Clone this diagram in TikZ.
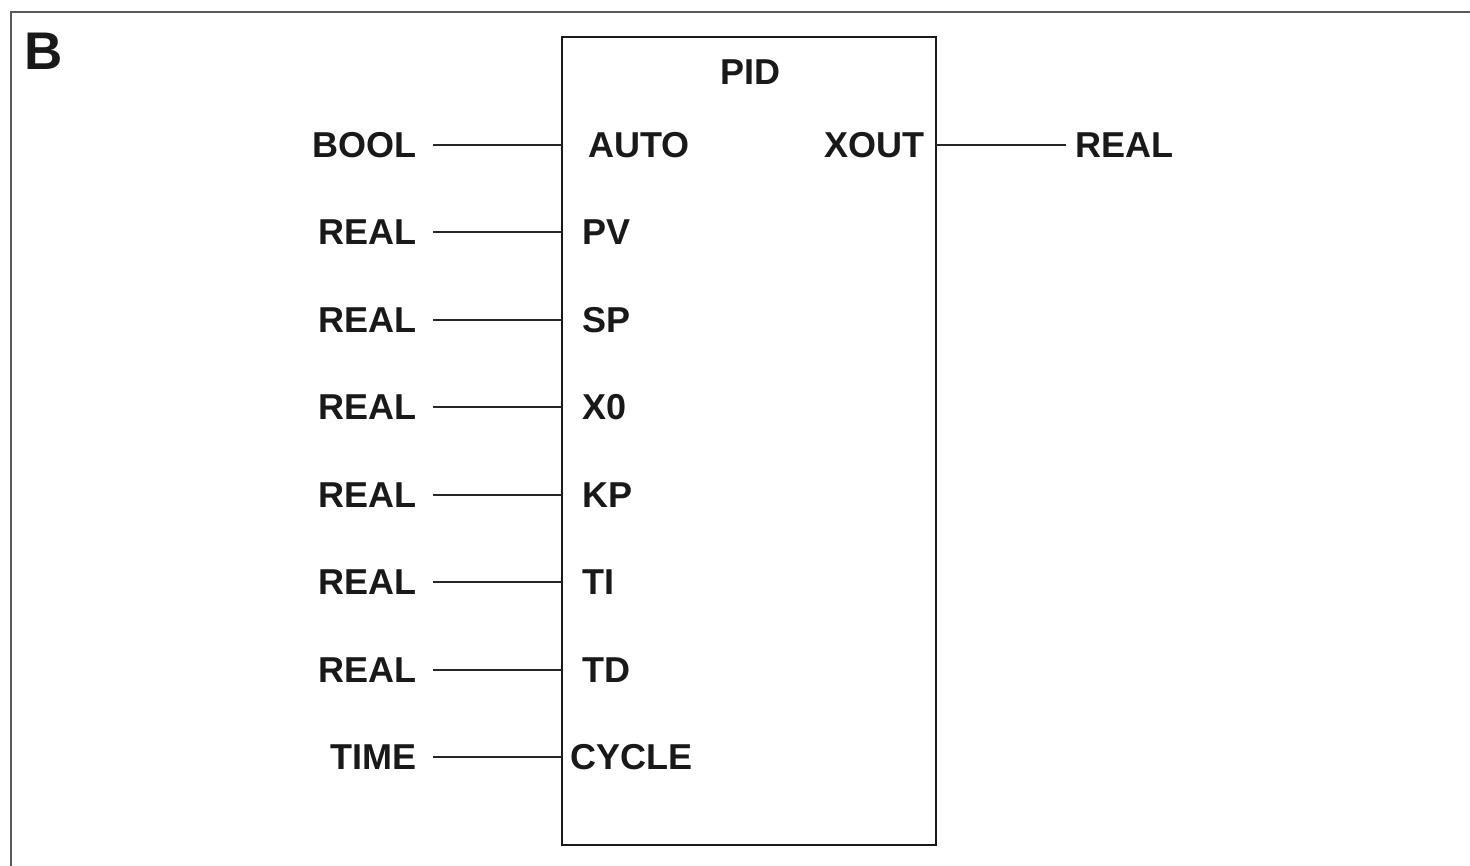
\documentclass[tikz,border=0pt]{standalone}
\usepackage{fontspec}
\setmainfont{Liberation Sans}
\begin{document}
\begin{tikzpicture}[x=1pt,y=-1pt,
  lbl/.style={font=\fontsize{36}{40}\selectfont\bfseries, inner sep=0pt, text=black!90},
  wire/.style={draw=black!85, line width=2pt},
  frame/.style={draw=black!65, line width=2.8pt}]
\useasboundingbox (0,0) rectangle (1470,865);
\begin{scope}
\clip (0,0) rectangle (1470,865);
\draw[frame] (11,12) rectangle (1490,885);
\end{scope}
\node[lbl, font=\fontsize{53}{56}\selectfont\bfseries, anchor=west] (B) at (24,51) {B};
% block
\draw[draw=black!90, line width=2.6pt] (562,37) rectangle (936,845);
\node[lbl, anchor=center] (pid) at (750,72) {PID};
% left rows
\foreach \n/\t/\p/\px/\y in {a/BOOL/AUTO/588/145, b/REAL/PV/582/232, c/REAL/SP/582/320, d/REAL/X0/582/407, e/REAL/KP/582/495, f/REAL/TI/582/582, g/REAL/TD/582/670, h/TIME/CYCLE/570/757}{
  \node[lbl, anchor=east] (t\n) at (417,\y) {\t};
  \node[lbl, anchor=west] (p\n) at (\px,\y) {\p};
  \coordinate (s\n) at (433,\y);
  \coordinate (e\n) at (562,\y);
  \draw[wire] (s\n) -- (e\n);
}
% output
\node[lbl, anchor=east] (xout) at (925,145) {XOUT};
\node[lbl, anchor=west] (outreal) at (1075,145) {REAL};
\coordinate (os) at (936,145);
\coordinate (oe) at (1066,145);
\draw[wire] (os) -- (oe);
\end{tikzpicture}
\end{document}
